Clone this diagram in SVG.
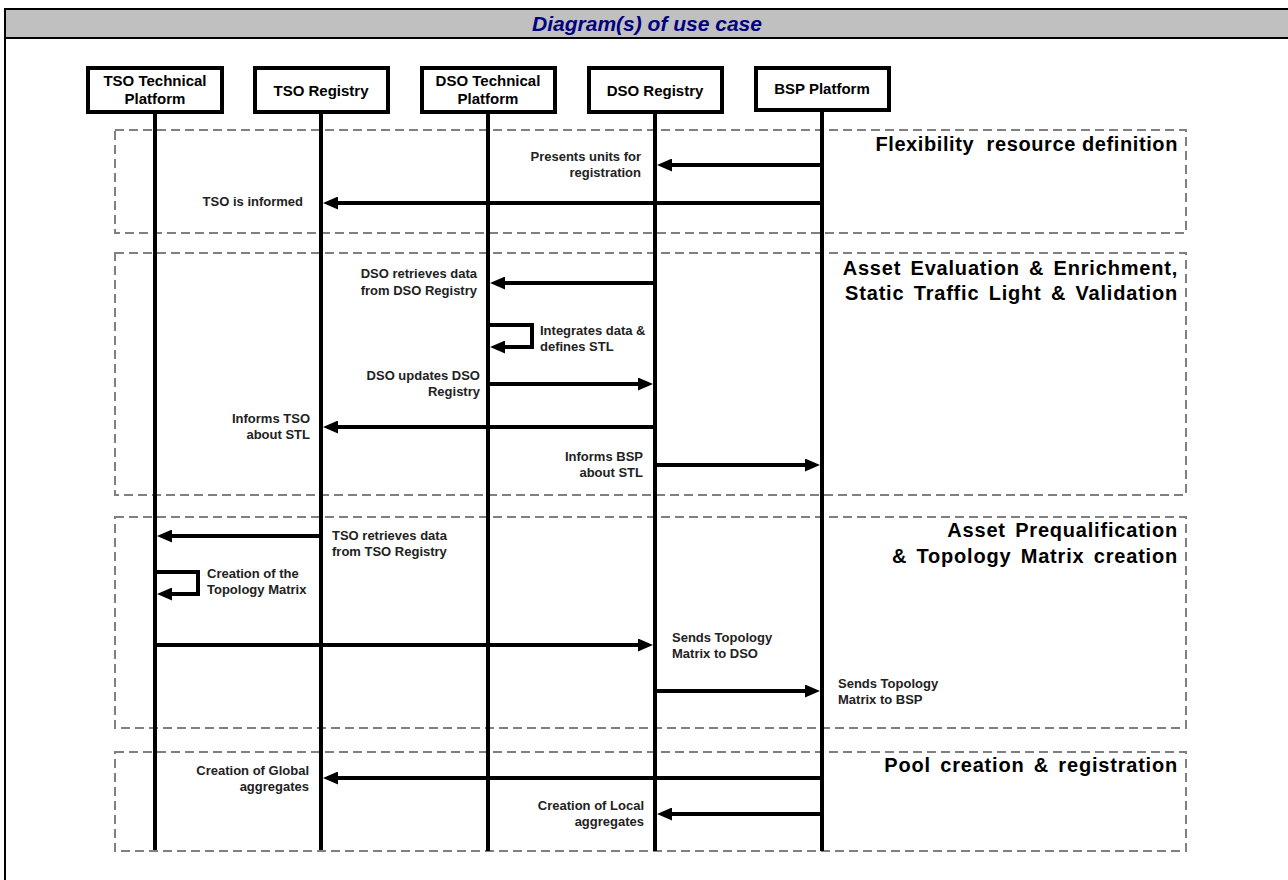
<svg xmlns="http://www.w3.org/2000/svg" width="1288" height="880" viewBox="0 0 1288 880">
  <style>
    .frame { stroke: #000; stroke-width: 2; fill: none; }
    .hdr { font-family: "Liberation Sans", Arial, sans-serif; font-size: 21px; font-weight: bold; font-style: italic; fill: #000080; }
    .node rect { fill: #fff; stroke: #000; stroke-width: 4; }
    .node text { font-family: "Liberation Sans", Arial, sans-serif; font-size: 15px; font-weight: bold; fill: #000; text-anchor: middle; }
    .life { stroke: #000; stroke-width: 4; }
    .group { fill: none; stroke: #808080; stroke-width: 2; stroke-dasharray: 9 5; }
    .gtitle { font-family: "Liberation Sans", Arial, sans-serif; font-size: 20px; font-weight: bold; fill: #000; text-anchor: end; letter-spacing: 0.8px; word-spacing: 3px; }
    .gtitle.flex { letter-spacing: 0.6px; word-spacing: 0; }
    .msg { fill: none; stroke: #000; stroke-width: 4; marker-end: url(#head); }
    .lbl { font-family: "Liberation Sans", Arial, sans-serif; font-size: 13px; font-weight: bold; fill: #222; }
    .r { text-anchor: end; }
  </style>
  <defs>
    <marker id="head" markerUnits="userSpaceOnUse" markerWidth="15" markerHeight="13" refX="4" refY="6.5" orient="auto">
      <path d="M0,0 L15,6.5 L0,13 Z" fill="#000"/>
    </marker>
  </defs>

  <!-- page frame and title bar -->
  <rect x="5" y="9" width="1290" height="28" fill="#c0c0c0"/>
  <line class="frame" x1="5" y1="9" x2="1288" y2="9"/>
  <line class="frame" x1="5" y1="38" x2="1288" y2="38"/>
  <line class="frame" x1="5" y1="8" x2="5" y2="880"/>
  <text class="hdr" x="647" y="31" text-anchor="middle">Diagram(s) of use case</text>

  <!-- phase frames -->
  <g id="phases">
    <rect class="group" x="115" y="130" width="1071" height="103"/>
    <rect class="group" x="115" y="253" width="1071" height="242"/>
    <rect class="group" x="115" y="517" width="1071" height="211"/>
    <rect class="group" x="115" y="752" width="1071" height="99"/>
    <text class="gtitle flex" x="1178" y="151">Flexibility&#160; resource definition</text>
    <text class="gtitle" x="1178" y="275">Asset Evaluation &amp; Enrichment,</text>
    <text class="gtitle" x="1178" y="300">Static Traffic Light &amp; Validation</text>
    <text class="gtitle" x="1178" y="537">Asset Prequalification</text>
    <text class="gtitle" x="1178" y="563">&amp; Topology Matrix creation</text>
    <text class="gtitle" x="1178" y="772">Pool creation &amp; registration</text>
  </g>

  <!-- participants with lifelines -->
  <g id="tso-technical-platform" class="node">
    <line class="life" x1="155" y1="112" x2="155" y2="850"/>
    <rect x="88" y="68" width="134" height="44"/>
    <text x="155" y="86">TSO Technical</text>
    <text x="155" y="104">Platform</text>
  </g>
  <g id="tso-registry" class="node">
    <line class="life" x1="321" y1="112" x2="321" y2="850"/>
    <rect x="255" y="68" width="133" height="44"/>
    <text x="321" y="96">TSO Registry</text>
  </g>
  <g id="dso-technical-platform" class="node">
    <line class="life" x1="488" y1="112" x2="488" y2="851"/>
    <rect x="422" y="68" width="133" height="44"/>
    <text x="488" y="86">DSO Technical</text>
    <text x="488" y="104">Platform</text>
  </g>
  <g id="dso-registry" class="node">
    <line class="life" x1="655" y1="112" x2="655" y2="851"/>
    <rect x="589" y="68" width="133" height="44"/>
    <text x="655" y="96">DSO Registry</text>
  </g>
  <g id="bsp-platform" class="node">
    <line class="life" x1="822" y1="110" x2="822" y2="851"/>
    <rect x="756" y="68" width="133" height="42"/>
    <text x="822" y="94">BSP Platform</text>
  </g>

  <!-- messages -->
  <g id="connectors">
    <line class="msg" x1="822" y1="165" x2="668" y2="165"/>
    <line class="msg" x1="822" y1="203" x2="334" y2="203"/>
    <line class="msg" x1="655" y1="283" x2="501" y2="283"/>
    <polyline class="msg" points="488,325 532,325 532,347 501,347"/>
    <line class="msg" x1="488" y1="384" x2="642" y2="384"/>
    <line class="msg" x1="655" y1="427" x2="334" y2="427"/>
    <line class="msg" x1="655" y1="465" x2="809" y2="465"/>
    <line class="msg" x1="321" y1="536" x2="168" y2="536"/>
    <polyline class="msg" points="155,572 198,572 198,594 168,594"/>
    <line class="msg" x1="155" y1="645" x2="642" y2="645"/>
    <line class="msg" x1="655" y1="691" x2="809" y2="691"/>
    <line class="msg" x1="822" y1="778" x2="334" y2="778"/>
    <line class="msg" x1="822" y1="814" x2="668" y2="814"/>
  </g>

  <!-- message labels -->
  <g id="labels">
    <text class="lbl r" x="641" y="161">Presents units for</text>
    <text class="lbl r" x="641" y="177">registration</text>
    <text class="lbl r" x="303" y="206">TSO is informed</text>
    <text class="lbl r" x="477" y="278">DSO retrieves data</text>
    <text class="lbl r" x="477" y="295">from DSO Registry</text>
    <text class="lbl" x="540" y="335">Integrates data &amp;</text>
    <text class="lbl" x="540" y="351">defines STL</text>
    <text class="lbl r" x="480" y="380">DSO updates DSO</text>
    <text class="lbl r" x="480" y="396">Registry</text>
    <text class="lbl r" x="310" y="423">Informs TSO</text>
    <text class="lbl r" x="310" y="439">about STL</text>
    <text class="lbl r" x="643" y="461">Informs BSP</text>
    <text class="lbl r" x="643" y="477">about STL</text>
    <text class="lbl" x="332" y="540">TSO retrieves data</text>
    <text class="lbl" x="332" y="556">from TSO Registry</text>
    <text class="lbl" x="207" y="578">Creation of the</text>
    <text class="lbl" x="207" y="594">Topology Matrix</text>
    <text class="lbl" x="672" y="642">Sends Topology</text>
    <text class="lbl" x="672" y="658">Matrix to DSO</text>
    <text class="lbl" x="838" y="688">Sends Topology</text>
    <text class="lbl" x="838" y="704">Matrix to BSP</text>
    <text class="lbl r" x="309" y="775">Creation of Global</text>
    <text class="lbl r" x="309" y="791">aggregates</text>
    <text class="lbl r" x="644" y="810">Creation of Local</text>
    <text class="lbl r" x="644" y="826">aggregates</text>
  </g>
</svg>
